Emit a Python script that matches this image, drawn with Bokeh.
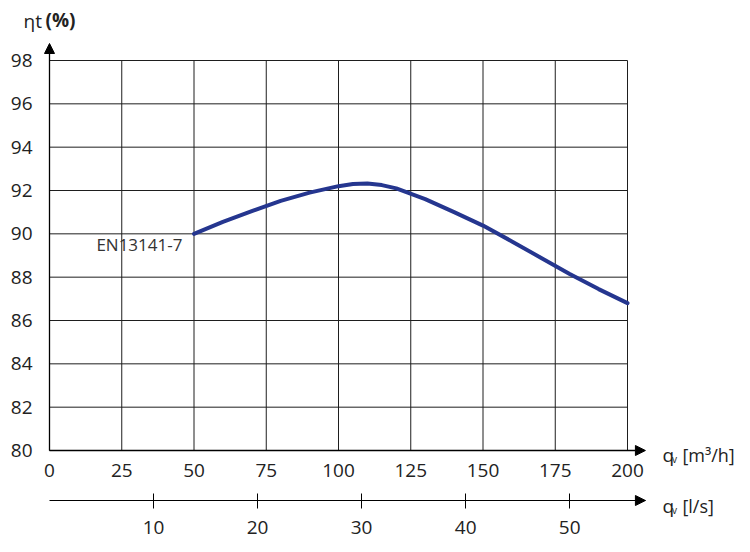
from bokeh.plotting import figure
from bokeh.models import Range1d, LinearAxis, FixedTicker, Arrow, NormalHead, Label
from bokeh.embed import file_html
from bokeh.resources import INLINE

# ---- data ----
flow_m3h = [50, 60, 70, 80, 90, 100, 105, 110, 115, 120, 130, 140, 150, 160, 170, 180, 190, 200]
eff_pct = [90.0, 90.55, 91.05, 91.52, 91.9, 92.2, 92.3, 92.32, 92.25, 92.1, 91.6, 91.0, 90.38, 89.65, 88.9, 88.15, 87.45, 86.8]
x_ticks = [0, 25, 50, 75, 100, 125, 150, 175, 200]
y_ticks = [80, 82, 84, 86, 88, 90, 92, 94, 96, 98]
ls_ticks = [10, 20, 30, 40, 50]
M3H_PER_LS = 3.6

FONT = "Open Sans"
W, H = 742, 544
PX_X = 2.89      # pixels per m3/h
PX_Y = 21.667    # pixels per %
X0_PX, Y98_PX = 49, 60
x_start = -X0_PX / PX_X
x_end = x_start + W / PX_X
y_end = 98 + Y98_PX / PX_Y
y_start = y_end - H / PX_Y

X_ARROW = 206.2
Y_ARROW = 98.785
Y_LS = 80 - 50 / PX_Y

p = figure(width=W, height=H, x_range=Range1d(x_start, x_end), y_range=Range1d(y_start, y_end),
           output_backend="svg", toolbar_location=None,
           min_border=0, min_border_left=0, min_border_right=0, min_border_top=0, min_border_bottom=0)
p.outline_line_color = None
p.background_fill_color = "white"
p.xgrid.visible = False
p.ygrid.visible = False

# grid lines limited to the chart area (drawn from the tick lists)
xmin, xmax = min(x_ticks), max(x_ticks)
ymin, ymax = min(y_ticks), max(y_ticks)
p.segment(x0=x_ticks, y0=[ymin] * len(x_ticks), x1=x_ticks, y1=[ymax] * len(x_ticks),
          line_color="#1e1e1e", line_width=1)
p.segment(x0=[xmin] * len(y_ticks), y0=y_ticks, x1=[xmax] * len(y_ticks), y1=y_ticks,
          line_color="#1e1e1e", line_width=1)

# main axes (labels only), fixed inside the frame
xa = p.xaxis[0]
xa.ticker = FixedTicker(ticks=x_ticks)
xa.fixed_location = 80
ya = p.yaxis[0]
ya.ticker = FixedTicker(ticks=y_ticks)
ya.fixed_location = 0
for ax in (xa, ya):
    ax.axis_line_color = None
    ax.major_tick_line_color = None
    ax.minor_tick_line_color = None
    ax.major_label_text_font = FONT
    ax.major_label_text_font_size = "19px"
    ax.major_label_text_color = "#222222"
xa.major_label_standoff = 7
ya.major_label_standoff = 11

# secondary axis in l/s
p.extra_x_ranges = {"ls": Range1d(x_start / M3H_PER_LS, x_end / M3H_PER_LS)}
ax2 = LinearAxis(x_range_name="ls", ticker=FixedTicker(ticks=ls_ticks),
                 bounds=(0, X_ARROW / M3H_PER_LS), fixed_location=Y_LS)
ax2.axis_line_color = "black"
ax2.axis_line_width = 1
ax2.major_tick_in = 7
ax2.major_tick_out = 8
ax2.major_tick_line_color = "black"
ax2.minor_tick_line_color = None
ax2.major_label_standoff = 12
ax2.major_label_text_font = FONT
ax2.major_label_text_font_size = "19px"
ax2.major_label_text_color = "#222222"
p.add_layout(ax2, "below")

# axis arrows
def head():
    return NormalHead(size=10, fill_color="black", line_color="black", line_width=1)

p.add_layout(Arrow(end=head(), x_start=0, y_start=80, x_end=0, y_end=Y_ARROW,
                   line_width=1.3, line_color="black"))
p.add_layout(Arrow(end=head(), x_start=0, y_start=80, x_end=X_ARROW, y_end=80,
                   line_width=1.3, line_color="black"))
p.add_layout(Arrow(end=head(), x_start=X_ARROW - 4, y_start=Y_LS, x_end=X_ARROW, y_end=Y_LS,
                   line_width=1, line_color="black"))

# efficiency curve
p.line(flow_m3h, eff_pct, line_width=4, line_color="#25368f", line_cap="round")

# texts
def lab(x, y, t, size="19px", style="normal", color="#222222", align="left", font=FONT):
    p.add_layout(Label(x=x, y=y, text=t, text_font=font, text_font_size=size, text_font_style=style,
                       text_color=color, text_align=align, text_baseline="middle"))

lab(46.0, 89.49, "EN13141-7", size="17px", color="#333333", align="right")
lab(-9.0, 99.8, "ηt")
lab(-1.4, 99.85, "(%)", style="bold")
lab(212.1, 79.815, "q")
lab(215.4, 79.6, "v", size="10px")
lab(219.0, 79.815, "[m³/h]", size="18px")
lab(212.1, 77.46, "q")
lab(215.4, 77.25, "v", size="10px")
lab(219.0, 77.46, "[l/s]", size="18px")

open("out.html", "w").write(file_html(p, INLINE))
